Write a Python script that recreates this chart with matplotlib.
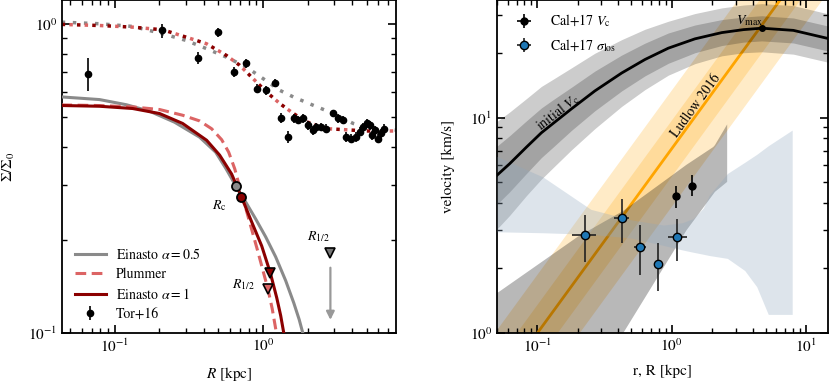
import matplotlib
matplotlib.use("Agg")
import matplotlib.pyplot as plt
from matplotlib.ticker import NullFormatter

plt.rcParams['font.family'] = 'STIXGeneral'
plt.rcParams['mathtext.fontset'] = 'stix'
plt.rcParams['font.size'] = 11
plt.rcParams['xtick.direction'] = 'in'
plt.rcParams['ytick.direction'] = 'in'
plt.rcParams['xtick.top'] = True
plt.rcParams['ytick.right'] = True
plt.rcParams['xtick.major.size'] = 6
plt.rcParams['ytick.major.size'] = 6
plt.rcParams['xtick.minor.size'] = 3.5
plt.rcParams['ytick.minor.size'] = 3.5
plt.rcParams['xtick.major.width'] = 1.2
plt.rcParams['ytick.major.width'] = 1.2
plt.rcParams['xtick.minor.width'] = 1.0
plt.rcParams['ytick.minor.width'] = 1.0
plt.rcParams['axes.linewidth'] = 1.3

GREY = '#8a8a8a'
DRED = '#8b0000'
LRED = '#dc6464'

# ---------------- left panel data ----------------
# Tor+16 surface density points
tor_r = [0.0664, 0.209, 0.364, 0.497, 0.634, 0.773, 0.911, 1.054, 1.2, 1.33,
         1.476, 1.61, 1.72, 1.86, 2.01, 2.18, 2.29, 2.48, 2.68, 2.97, 3.21,
         3.47, 3.66, 3.95, 4.27, 4.5, 4.74, 5.0, 5.26, 5.45, 5.67, 5.98, 6.23, 6.56]
tor_s = [0.69, 0.951, 0.777, 0.937, 0.70, 0.746, 0.617, 0.609, 0.645, 0.496,
         0.43, 0.494, 0.488, 0.494, 0.47, 0.453, 0.464, 0.464, 0.458, 0.513, 0.494,
         0.488, 0.43, 0.425, 0.43, 0.447, 0.464, 0.476, 0.47, 0.436, 0.453, 0.425, 0.442, 0.458]
tor_err = [0.083, 0.05, 0.035, 0.03, 0.025, 0.025, 0.02, 0.02, 0.02, 0.02,
           0.02, 0.015, 0.015, 0.015, 0.015, 0.015, 0.015, 0.015, 0.015, 0.015, 0.015,
           0.015, 0.015, 0.015, 0.015, 0.015, 0.015, 0.015, 0.015, 0.015, 0.015, 0.015, 0.015, 0.015]

# Einasto alpha=0.5 (grey)
ein05_r = [0.0436, 0.0788, 0.120, 0.1716, 0.2532, 0.3736, 0.4791, 0.5598, 0.6539,
           0.7641, 0.8926, 1.043, 1.218, 1.4237, 1.6125, 1.7563, 1.854, 1.943]
ein05_s = [0.580, 0.5686, 0.547, 0.5214, 0.4803, 0.4297, 0.3844, 0.3413, 0.2997,
           0.2652, 0.2337, 0.2045, 0.1762, 0.1475, 0.1252, 0.1104, 0.1002, 0.0917]

# Plummer (light red dashed)
plum_r = [0.0436, 0.0788, 0.1318, 0.2004, 0.2867, 0.3736, 0.450, 0.526, 0.5864, 0.644,
          0.696, 0.7641, 0.8387, 0.921, 1.003, 1.081, 1.154, 1.232, 1.277]
plum_s = [0.5463, 0.5439, 0.5383, 0.528, 0.506, 0.485, 0.4576, 0.4218, 0.3845, 0.340,
          0.2963, 0.2536, 0.2162, 0.1842, 0.1582, 0.1384, 0.1198, 0.100, 0.0903]

# Einasto alpha=1 (dark red)
ein1_r = [0.0436, 0.0788, 0.1318, 0.2004, 0.2867, 0.4164, 0.5097, 0.6144, 0.7145,
          0.8387, 0.980, 1.122, 1.238, 1.317, 1.380, 1.446]
ein1_s = [0.544, 0.541, 0.532, 0.5125, 0.476, 0.420, 0.376, 0.3265, 0.2758,
          0.2286, 0.1912, 0.1561, 0.130, 0.1137, 0.1002, 0.0883]

# projected (dotted) profiles
dotg_r = [0.0438, 0.0788, 0.132, 0.211, 0.303, 0.415, 0.566, 0.773, 1.0, 1.30,
          1.60, 2.18, 2.97, 4.06, 5.0, 7.9]
dotg_s = [1.012, 1.0, 0.98, 0.928, 0.883, 0.831, 0.78, 0.724, 0.665, 0.609,
          0.58, 0.545, 0.513, 0.476, 0.464, 0.453]
dotr_r = [0.0438, 0.0788, 0.132, 0.211, 0.303, 0.415, 0.566, 0.696, 0.856, 1.054,
          1.30, 1.60, 1.96, 2.68, 5.0, 7.9]
dotr_s = [0.995, 0.987, 0.975, 0.956, 0.905, 0.862, 0.79, 0.734, 0.665, 0.602,
          0.552, 0.513, 0.482, 0.458, 0.45, 0.45]

rc_grey = (0.654, 0.2997)
rc_red = (0.7145, 0.2758)
rh_red = (1.122, 0.1561)
rh_plum = (1.081, 0.1384)
rh_grey = (2.85, 0.181)

# ---------------- right panel data ----------------
vc_r = [0.05, 0.062, 0.083, 0.107, 0.131, 0.18, 0.268, 0.424, 0.632, 0.944,
        1.49, 2.36, 3.42, 4.69, 8.06, 15]
vc_v = [5.4, 6.1, 7.3, 8.5, 9.4, 11.0, 13.3, 16.1, 18.6, 21.0,
        23.2, 24.8, 25.6, 26.0, 25.4, 23.2]
vc_lo1 = [3.96, 4.52, 5.51, 6.52, 7.3, 8.74, 10.76, 13.3, 15.62, 17.87,
          20.0, 21.6, 22.4, 22.7, 22.2, 20.3]
vc_hi1 = [7.37, 8.23, 9.67, 11.08, 12.11, 13.85, 16.44, 19.5, 22.15, 24.7,
          26.9, 28.5, 29.3, 29.7, 29.0, 26.5]
vc_lo2 = [3.04, 3.51, 4.35, 5.18, 5.86, 7.1, 8.89, 11.27, 13.48, 15.74,
          17.8, 19.35, 20.0, 20.2, 19.7, 18.0]
vc_hi2 = [9.6, 10.6, 12.26, 13.95, 15.07, 17.04, 19.9, 23.0, 25.7, 28.0,
          30.4, 32.3, 33.3, 33.8, 33.1, 30.2]
vmax_r, vmax_v = 4.69, 26.0

lud_r = [0.05, 15]
lud_v = [0.553, 72.6]
lud_lo1 = [0.41, 53.8]
lud_hi1 = [0.746, 97.9]
lud_lo2 = [0.297, 38.96]
lud_hi2 = [1.03, 135.0]

mass_r = [0.05, 0.2, 0.436, 0.89, 1.29, 2.04, 2.1, 2.59]
mass_lo = [0.115, 0.459, 1.0, 2.06, 3.0, 4.41, 4.52, 5.03]
mass_hi = [1.53, 2.8, 3.69, 5.1, 6.04, 7.3, 7.45, 9.3]

sig_r = [0.05, 0.11, 0.25, 0.5, 0.87, 1.2, 1.45, 1.72, 1.9, 2.6, 3.5, 4.3, 5.24, 7.9]
sig_hi = [6.6, 5.3, 3.75, 3.35, 3.17, 3.25, 3.4, 3.8, 4.35, 5.5, 6.2, 6.75, 7.4, 8.75]
sig_lo = [2.95, 2.92, 2.87, 2.76, 2.55, 2.43, 2.37, 2.32, 2.29, 2.22, 1.95, 1.64, 1.22, 1.22]

# Cal+17 points
cal_vc_r = [1.07, 1.42]
cal_vc_v = [4.32, 4.8]
cal_vc_xerr = [[0.04, 0.05], [0.04, 0.05]]
cal_vc_verr = [[0.51, 0.48], [0.48, 0.6]]

cal_sig_r = [0.226, 0.424, 0.58, 0.787, 1.1]
cal_sig_v = [2.85, 3.41, 2.52, 2.09, 2.78]
cal_sig_xerr = [[0.044, 0.052, 0.053, 0.036, 0.156], [0.046, 0.059, 0.064, 0.04, 0.19]]
cal_sig_verr = [[0.71, 0.78, 0.66, 0.53, 0.61], [0.68, 0.8, 0.65, 0.54, 0.59]]

fig = plt.figure(figsize=(8.3, 3.81), dpi=100)
ax1 = fig.add_axes([0.0747, 0.126, 0.4024, 0.873])
ax2 = fig.add_axes([0.5988, 0.126, 0.3988, 0.873])

# ---- left ----
ax1.set_xscale('log')
ax1.set_yscale('log')
ax1.plot(dotg_r, dotg_s, color=GREY, lw=2.5, ls=(0, (1, 2.2)), zorder=2)
ax1.plot(dotr_r, dotr_s, color=DRED, lw=2.5, ls=(0, (1, 3.4)), zorder=2)
ax1.plot(dotr_r, dotr_s, color=LRED, lw=2.5, ls=(2.2, (1, 3.4)), zorder=2)

ax1.plot(ein05_r, ein05_s, color=GREY, lw=2.2, label=r'Einasto $\alpha=0.5$', zorder=3)
ax1.plot(plum_r, plum_s, color=LRED, lw=2.2, ls=(0, (3.5, 1.8)), label='Plummer', zorder=3)
ax1.plot(ein1_r, ein1_s, color=DRED, lw=2.2, label=r'Einasto $\alpha=1$', zorder=3)
ax1.errorbar(tor_r, tor_s, yerr=tor_err, fmt='o', color='k', ms=4.5, elinewidth=1.2,
             capsize=0, label='Tor+16', zorder=4)

ax1.plot(*rc_grey, 'o', ms=6.5, mfc=GREY, mec='k', mew=1.3, zorder=5)
ax1.plot(*rc_red, 'o', ms=6.5, mfc=DRED, mec='k', mew=1.3, zorder=5)
ax1.plot(*rh_red, 'v', ms=7, mfc=DRED, mec='k', mew=1.2, zorder=5)
ax1.plot(*rh_plum, 'v', ms=7, mfc=LRED, mec='k', mew=1.2, zorder=5)
ax1.plot(*rh_grey, 'v', ms=7, mfc='#777777', mec='k', mew=1.2, zorder=5)
ax1.annotate('', xy=(2.85, 0.108), xytext=(2.85, 0.166),
             arrowprops=dict(arrowstyle='-|>', color='#999999', lw=1.6, mutation_scale=12))
ax1.text(0.51, 0.259, r'$R_{\rm c}$', fontsize=10, ha='center', va='center')
ax1.text(0.733, 0.143, r'$R_{1/2}$', fontsize=10, ha='center', va='center')
ax1.text(2.35, 0.205, r'$R_{1/2}$', fontsize=10, ha='center', va='center')

ax1.set_xlim(0.044, 7.9)
ax1.set_ylim(0.1, 1.19)
ax1.set_xlabel(r'$R$ [kpc]')
ax1.set_ylabel(r'$\Sigma/\Sigma_0$')
ax1.xaxis.set_label_coords(0.5, -0.095)
ax1.yaxis.set_label_coords(-0.135, 0.5)
ax1.legend(loc='lower left', frameon=False, fontsize=10, handlelength=2.3,
           handletextpad=0.7, labelspacing=0.4)

# ---- right ----
ax2.set_xscale('log')
ax2.set_yscale('log')
ax2.fill_between(lud_r, lud_lo2, lud_hi2, color='orange', alpha=0.22, lw=0, zorder=1)
ax2.fill_between(lud_r, lud_lo1, lud_hi1, color='orange', alpha=0.22, lw=0, zorder=1)
ax2.plot(lud_r, lud_v, color='orange', lw=2, zorder=2)

ax2.fill_between(vc_r, vc_lo2, vc_hi2, color='k', alpha=0.2, lw=0, zorder=3)
ax2.fill_between(vc_r, vc_lo1, vc_hi1, color='k', alpha=0.2, lw=0, zorder=3)
ax2.plot(vc_r, vc_v, color='k', lw=2, zorder=4)
ax2.plot(vmax_r, vmax_v, 'o', color='k', ms=4, zorder=5)

ax2.fill_between(mass_r, mass_lo, mass_hi, color='k', alpha=0.28, lw=0, zorder=3)
ax2.fill_between(sig_r, sig_lo, sig_hi, color='#8fa8c0', alpha=0.3, lw=0, zorder=3)

ax2.errorbar(cal_vc_r, cal_vc_v, xerr=cal_vc_xerr, yerr=cal_vc_verr, fmt='o', color='k',
             ms=5, elinewidth=1.2, capsize=0, label=r'Cal+17 $V_{\rm c}$', zorder=6)
ax2.errorbar(cal_sig_r, cal_sig_v, xerr=cal_sig_xerr, yerr=cal_sig_verr, fmt='o',
             mfc='#1f77b4', mec='k', mew=1.0, ecolor='#222222', ms=6, elinewidth=1.2,
             capsize=0, label=r'Cal+17 $\sigma_{\rm los}$', zorder=6)

ax2.text(0.141, 10.6, r'initial $V_{\rm c}$', fontsize=10, rotation=38,
         ha='center', va='center', zorder=7)
ax2.text(1.51, 11.4, 'Ludlow 2016', fontsize=10, rotation=54,
         ha='center', va='center', zorder=7)
ax2.text(3.83, 28.1, r'$V_{\rm max}$', fontsize=10, ha='center', va='center', zorder=7)

ax2.set_xlim(0.05, 14.6)
ax2.set_ylim(1, 35)
ax2.set_xlabel('r, R [kpc]')
ax2.set_ylabel('velocity [km/s]')
ax2.xaxis.set_label_coords(0.5, -0.095)
ax2.yaxis.set_label_coords(-0.128, 0.5)
ax2.legend(loc='upper left', frameon=False, fontsize=10, handlelength=2.1,
           handletextpad=0.8, labelspacing=0.55)

for ax in (ax1, ax2):
    ax.xaxis.set_minor_formatter(NullFormatter())
    ax.yaxis.set_minor_formatter(NullFormatter())
    ax.tick_params(which='both', top=True, right=True)

fig.savefig('out.png', dpi=100)
